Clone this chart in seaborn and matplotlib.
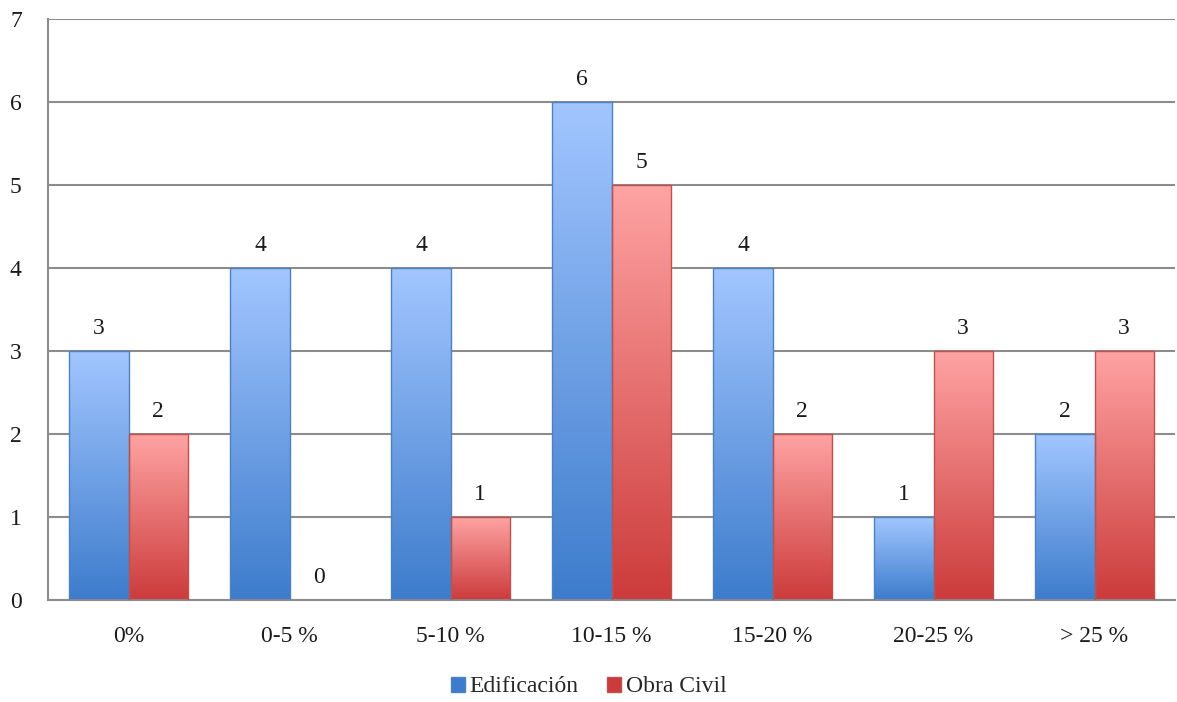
import numpy as np
import pandas as pd
import matplotlib
matplotlib.use("Agg")
import matplotlib.pyplot as plt
import seaborn as sns
from matplotlib.colors import LinearSegmentedColormap
from matplotlib.patches import Patch

categories = ["0%", "0-5 %", "5-10 %", "10-15 %", "15-20 %", "20-25 %", "> 25 %"]
edificacion = [3, 4, 4, 6, 4, 1, 2]
obra_civil = [2, 0, 1, 5, 2, 3, 3]
series_names = ["Edificación", "Obra Civil"]

# gradient (top colour, bottom colour) and outline per series
grad = {
    "Edificación": ("#a2c6ff", "#3d7ccc", "#4f81bd"),
    "Obra Civil": ("#ffa3a3", "#cc3b3b", "#c0504d"),
}

df = pd.DataFrame({
    "cat": categories * 2,
    "serie": [series_names[0]] * len(categories) + [series_names[1]] * len(categories),
    "valor": edificacion + obra_civil,
})

sns.set_theme(style="white")
plt.rcParams["font.family"] = ["Liberation Serif", "DejaVu Serif"]

fig = plt.figure(figsize=(11.77, 7.02), dpi=100)
ax = fig.add_axes([48 / 1177, 1 - 600 / 702, 1127 / 1177, 581 / 702])

sns.barplot(data=df, x="cat", y="valor", hue="serie", order=categories,
            hue_order=series_names, width=0.733, ax=ax, legend=False,
            palette=[grad[s][1] for s in series_names], saturation=1)

ax.set_ylim(0, 7)
ax.set_xlim(-0.5, len(categories) - 0.5)

# replace flat fills with vertical gradients clipped to each bar
for i, container in enumerate(ax.containers):
    top_c, bot_c, edge_c = grad[series_names[i]]
    cmap = LinearSegmentedColormap.from_list("g", [bot_c, top_c])
    for bar, val in zip(container.patches, container.datavalues):
        x0, w, h = bar.get_x(), bar.get_width(), bar.get_height()
        if h > 0:
            img = ax.imshow(np.linspace(0, 1, 256).reshape(-1, 1), cmap=cmap,
                            origin="lower", aspect="auto",
                            extent=(x0, x0 + w, 0, h), zorder=2,
                            interpolation="bicubic")
            img.set_clip_path(bar)
            bar.set_facecolor("none")
            bar.set_edgecolor(edge_c)
            bar.set_linewidth(1.0)
            bar.set_zorder(3)
        ax.text(x0 + w / 2, h + 0.15, f"{int(val)}", ha="center", va="bottom",
                fontsize=17, color="#1a1a1a")

ax.set_aspect("auto")
ax.set_xlim(-0.5, len(categories) - 0.5)
ax.set_ylim(0, 7)

ax.yaxis.grid(True, color="#8c8c8c", linewidth=1.5)
ax.set_axisbelow(True)
for s in ["top", "right"]:
    ax.spines[s].set_visible(False)
for s in ["left", "bottom"]:
    ax.spines[s].set_color("#8c8c8c")
    ax.spines[s].set_linewidth(1.5)
ax.set_yticks(range(0, 8))
ax.tick_params(axis="both", length=0, labelsize=17, labelcolor="#1a1a1a")
ax.tick_params(axis="x", pad=19)
ax.tick_params(axis="y", pad=0)
ax.set_xlabel("")
ax.set_ylabel("")
for lbl in ax.get_yticklabels():
    lbl.set_horizontalalignment("left")
    lbl.set_x(-38 / 1127)

handles = [Patch(facecolor=grad[s][1], edgecolor=grad[s][2], label=s) for s in series_names]
fig.legend(handles=handles, loc="center", bbox_to_anchor=(0.5, 1 - 687 / 702),
           ncol=2, frameon=False, fontsize=17, handlelength=0.6, handleheight=0.6,
           handletextpad=0.2, columnspacing=1.2)

fig.savefig("out.png", dpi=100)
